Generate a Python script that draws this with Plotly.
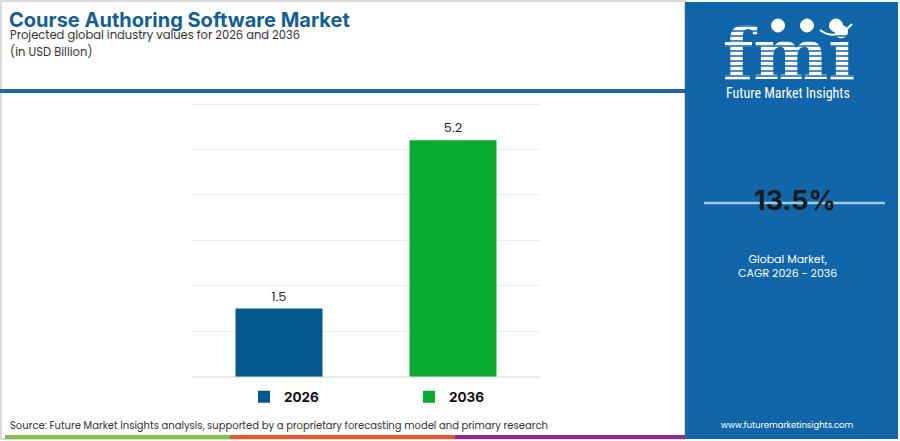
import plotly.graph_objects as go

# Chart data
years = ["2026", "2036"]
values = [1.5, 5.2]
bar_colors = ["#03598f", "#08ab2e"]
cagr = "13.5%"

W, H = 900, 441
PANEL_X = 685
PANEL_BLUE = "#1066a8"


def px(x):
    return x / W


def py(y):
    return 1 - y / H


fig = go.Figure()

for year, val, col in zip(years, values, bar_colors):
    fig.add_trace(go.Bar(
        x=[year], y=[val], name=f"<b>{year}</b>",
        marker_color=col, marker_line_width=0,
        text=[f"{val:.1f}"], textposition="outside",
        textfont=dict(size=13, color="#2b2b2b"),
        cliponaxis=False,
    ))

# logo lettering on a hidden full-page axis, so the stripes can sit on top of it
fig.add_trace(go.Scatter(
    x=[789], y=[61], mode="text", text=["<b>fmi</b>"],
    textfont=dict(size=71, color="white", family="DejaVu Serif"),
    xaxis="x2", yaxis="y2", showlegend=False, hoverinfo="skip",
))

shapes = [
    # light frame around the chart area
    dict(type="rect", xref="paper", yref="paper", layer="below",
         x0=px(1), x1=px(PANEL_X), y0=py(439), y1=py(1),
         line=dict(color="#d0d0d0", width=1.5), fillcolor="white"),
    # right side panel
    dict(type="rect", xref="paper", yref="paper", layer="below",
         x0=px(PANEL_X), x1=px(898), y0=py(439), y1=py(2),
         line_width=0, fillcolor=PANEL_BLUE),
    # blue header rule
    dict(type="rect", xref="paper", yref="paper",
         x0=0, x1=px(PANEL_X), y0=py(93), y1=py(89),
         line_width=0, fillcolor="#1f66a3"),
    # line behind the CAGR figure
    dict(type="line", xref="paper", yref="paper",
         x0=px(704), x1=px(885), y0=py(203), y1=py(203),
         line=dict(color="#9cc9ec", width=2.5)),
    # bottom coloured strip
    dict(type="rect", xref="paper", yref="paper",
         x0=px(5), x1=px(230), y0=py(439), y1=py(435),
         line_width=0, fillcolor="#7cc142"),
    dict(type="rect", xref="paper", yref="paper",
         x0=px(230), x1=px(455), y0=py(439), y1=py(435),
         line_width=0, fillcolor="#e8552b"),
    dict(type="rect", xref="paper", yref="paper",
         x0=px(455), x1=px(PANEL_X), y0=py(439), y1=py(435),
         line_width=0, fillcolor="#8e2a8a"),
]

# horizontal stripes through the logo letters
for sy in range(26, 82, 5):
    x_end = 766 if sy < 34 else 860
    shapes.append(dict(type="line", xref="paper", yref="paper",
                       x0=px(716), x1=px(x_end), y0=py(sy), y1=py(sy),
                       line=dict(color=PANEL_BLUE, width=1.3)))

# little globes above the logo letters
for cx in (778, 807, 836):
    shapes.append(dict(type="circle", xref="paper", yref="paper",
                       x0=px(cx - 6.5), x1=px(cx + 6.5), y0=py(32), y1=py(19),
                       line=dict(color="white", width=1), fillcolor="white"))
shapes.append(dict(type="path", xref="paper", yref="paper",
                   path=f"M {px(820)},{py(30)} Q {px(836)},{py(42)} {px(852)},{py(24)}",
                   line=dict(color="white", width=2)))

annotations = [
    dict(text="<b>Course Authoring Software Market</b>", x=px(7), y=py(20),
         font=dict(size=20, color="#125f98", family="Inter")),
    dict(text="Projected global industry values for 2026 and 2036", x=px(8), y=py(35),
         font=dict(size=11.5, color="#333333")),
    dict(text="(in USD Billion)", x=px(8), y=py(52),
         font=dict(size=11.5, color="#333333")),
    dict(text="Source: Future Market Insights analysis, supported by a proprietary forecasting model and primary research",
         x=px(8), y=py(425), font=dict(size=10, color="#333333")),
    dict(text="Future Market Insights", x=px(788), y=py(93), xanchor="center",
         font=dict(size=14, color="white", family="Roboto Condensed, Roboto")),
    # CAGR panel
    dict(text=f"<b>{cagr}</b>", x=px(795), y=py(200), xanchor="center",
         font=dict(size=27, color="#1a1a1a", family="Inter")),
    dict(text="Global Market,<br>CAGR 2026 - 2036", x=px(787), y=py(266), xanchor="center",
         align="center", font=dict(size=11, color="white")),
    dict(text="www.futuremarketinsights.com", x=px(787), y=py(425), xanchor="center",
         font=dict(size=8.5, color="white")),
]
for a in annotations:
    a.setdefault("xanchor", "left")
    a.update(xref="paper", yref="paper", yanchor="middle", showarrow=False)

# 45.45 px per unit; extra headroom keeps the 6 gridline inside the range
unit_px = 45.45
y_top = 6.4

fig.update_layout(
    width=W, height=H,
    margin=dict(l=0, r=0, t=0, b=0),
    paper_bgcolor="white", plot_bgcolor="rgba(0,0,0,0)",
    font=dict(family="Poppins, Inter, sans-serif", color="#333333"),
    barmode="relative", bargap=0.5,
    showlegend=True,
    legend=dict(orientation="h", x=px(244), y=py(397), xanchor="left", yanchor="middle",
                entrywidth=120, entrywidthmode="pixels",
                font=dict(size=13.5, color="#111111", family="Inter"),
                itemclick=False, itemdoubleclick=False),
    xaxis=dict(domain=[px(192), px(540)], showticklabels=False, showline=False,
               showgrid=False, ticks=""),
    yaxis=dict(domain=[py(376.7), py(376.7 - y_top * unit_px)], range=[0, y_top],
               tickmode="array", tickvals=[0, 1, 2, 3, 4, 5, 6],
               showticklabels=False, showgrid=True, gridcolor="#ececec",
               gridwidth=1, zeroline=True, zerolinecolor="#ececec", ticks=""),
    xaxis2=dict(domain=[0, 1], range=[0, W], visible=False, anchor="y2", fixedrange=True),
    yaxis2=dict(domain=[0, 1], range=[H, 0], visible=False, anchor="x2", fixedrange=True),
    shapes=shapes,
    annotations=annotations,
)

# drop the default page margin so the figure sits at the window's corner
fig.write_html("out.html", config={"displayModeBar": False},
               post_script="document.body.style.margin='0';document.body.style.overflow='hidden';")
